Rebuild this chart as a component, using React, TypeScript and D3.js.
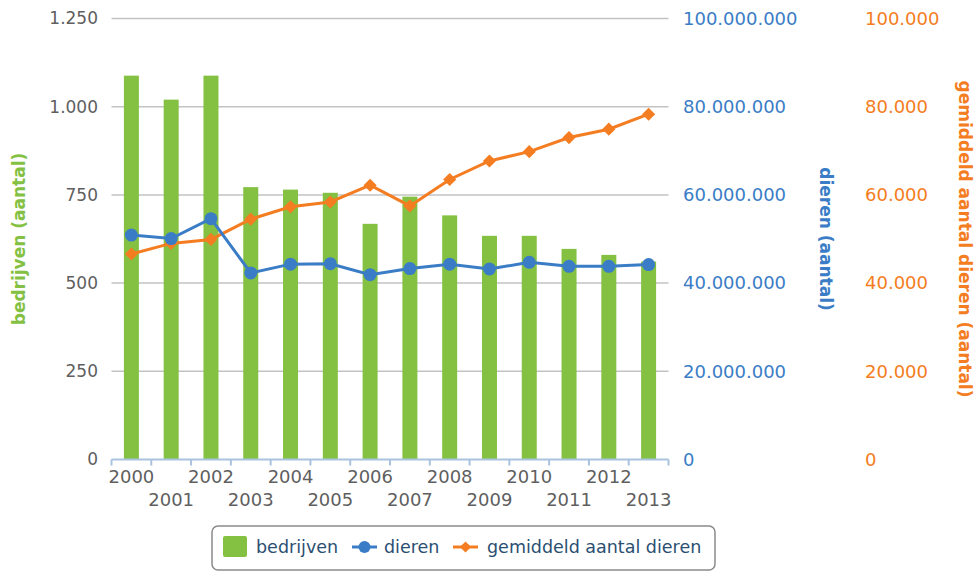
import React from "react";
import * as d3 from "d3";

const years = ["2000","2001","2002","2003","2004","2005","2006","2007","2008","2009","2010","2011","2012","2013"];
const bedrijven = [1088, 1020, 1088, 772, 765, 756, 668, 745, 692, 634, 634, 597, 580, 561];
const dieren = [50.9e6, 50.1e6, 54.6e6, 42.3e6, 44.3e6, 44.4e6, 41.9e6, 43.3e6, 44.3e6, 43.2e6, 44.7e6, 43.8e6, 43.8e6, 44.2e6];
const gemiddeld = [46.6e3, 49.0e3, 49.9e3, 54.5e3, 57.3e3, 58.4e3, 62.2e3, 57.5e3, 63.5e3, 67.7e3, 69.8e3, 73.0e3, 74.9e3, 78.3e3];
const leftTicks = [0, 250, 500, 750, 1000, 1250];
const blueTicks = [0, 20e6, 40e6, 60e6, 80e6, 100e6];
const orangeTicks = [0, 20e3, 40e3, 60e3, 80e3, 100e3];

const GREEN = "#84c142";
const BLUE = "#3a7dc6";
const ORANGE = "#f47d22";
const FONT = "DejaVu Sans, Verdana, sans-serif";

const fmt = (v: number) => d3.format(",")(v).replace(/,/g, ".");

export default function App() {
  const W = 979, H = 572;
  const x0 = 111.5, x1 = 668.5, yTop = 18.5, yBot = 459.5;
  const x = d3.scaleBand<string>().domain(years).range([x0, x1]).paddingInner(0).paddingOuter(0);
  const yL = d3.scaleLinear().domain([0, 1250]).range([yBot, yTop]);
  const yB = d3.scaleLinear().domain([0, 100e6]).range([yBot, yTop]);
  const yO = d3.scaleLinear().domain([0, 100e3]).range([yBot, yTop]);
  const cx = (d: string) => (x(d) as number) + x.bandwidth() / 2;
  const barW = 15;

  const lineB = d3.line<number>().x((_, i) => cx(years[i])).y((v) => yB(v));
  const lineO = d3.line<number>().x((_, i) => cx(years[i])).y((v) => yO(v));
  const diamondType = d3.symbolDiamond2 ?? d3.symbolDiamond;
  const diamond = d3.symbol().type(diamondType).size(110)() as string;

  return (
    <svg width={W} height={H} style={{ position: "absolute", left: 0, top: 0, background: "#fff" }} fontFamily={FONT}>
      {leftTicks.filter((t) => t > 0).map((t) => (
        <line key={t} x1={x0} x2={x1} y1={yL(t)} y2={yL(t)} stroke="#c3c3c3" strokeWidth={1.5} />
      ))}
      {leftTicks.map((t) => (
        <text key={t} x={98} y={yL(t)} dy="0.35em" textAnchor="end" fontSize={17} fill="#5f5f5f">{fmt(t)}</text>
      ))}
      {blueTicks.map((t) => (
        <text key={t} x={683} y={yB(t)} dy="0.35em" textAnchor="start" fontSize={18} fill={BLUE}>{fmt(t)}</text>
      ))}
      {orangeTicks.map((t) => (
        <text key={t} x={865} y={yO(t)} dy="0.35em" textAnchor="start" fontSize={18} fill={ORANGE}>{fmt(t)}</text>
      ))}
      <text transform={`translate(19,239) rotate(-90)`} textAnchor="middle" dy="0.35em" fontSize={17} fontWeight="bold" fill={GREEN}>bedrijven (aantal)</text>
      <text transform={`translate(826,239) rotate(90)`} textAnchor="middle" dy="0.35em" fontSize={17} fontWeight="bold" fill={BLUE}>dieren (aantal)</text>
      <text transform={`translate(965,239) rotate(90)`} textAnchor="middle" dy="0.35em" fontSize={17} fontWeight="bold" fill={ORANGE}>gemiddeld aantal dieren (aantal)</text>
      {years.map((yr, i) => (
        <rect key={yr} x={cx(yr) - barW / 2} y={yL(bedrijven[i])} width={barW} height={yBot - yL(bedrijven[i])} fill={GREEN} />
      ))}
      <line x1={x0} x2={x1} y1={yBot} y2={yBot} stroke="#a9c3df" strokeWidth={2} />
      {[...years.map((yr) => x(yr) as number), x1].map((p, i) => (
        <line key={i} x1={p} x2={p} y1={yBot} y2={yBot + 6} stroke="#a9c3df" strokeWidth={2} />
      ))}
      {years.map((yr, i) => (
        <text key={yr} x={cx(yr)} y={i % 2 === 0 ? 477 : 500} dy="0.35em" textAnchor="middle" fontSize={18} fill="#5f5f5f">{yr}</text>
      ))}
      <path d={lineO(gemiddeld) as string} fill="none" stroke={ORANGE} strokeWidth={3} />
      {gemiddeld.map((v, i) => (
        <path key={i} d={diamond} transform={`translate(${cx(years[i])},${yO(v)})`} fill={ORANGE} />
      ))}
      <path d={lineB(dieren) as string} fill="none" stroke={BLUE} strokeWidth={3} />
      {dieren.map((v, i) => (
        <circle key={i} cx={cx(years[i])} cy={yB(v)} r={6.5} fill={BLUE} />
      ))}
      <rect x={212} y={526} width={503} height={44} rx={6} fill="#fff" stroke="#8a8a8a" strokeWidth={1.5} />
      <rect x={223} y={536} width={24} height={21} rx={2} fill={GREEN} />
      <text x={256} y={547} dy="0.35em" fontSize={17.5} fill="#2b4f72">bedrijven</text>
      <line x1={352} x2={377} y1={547} y2={547} stroke={BLUE} strokeWidth={3} />
      <circle cx={364.5} cy={547} r={6} fill={BLUE} />
      <text x={384} y={547} dy="0.35em" fontSize={17.5} fill="#2b4f72">dieren</text>
      <line x1={453} x2={478} y1={547} y2={547} stroke={ORANGE} strokeWidth={3} />
      <path d={d3.symbol().type(diamondType).size(80)() as string} transform="translate(465.5,547)" fill={ORANGE} />
      <text x={487} y={547} dy="0.35em" fontSize={17.5} fill="#2b4f72">gemiddeld aantal dieren</text>
    </svg>
  );
}
